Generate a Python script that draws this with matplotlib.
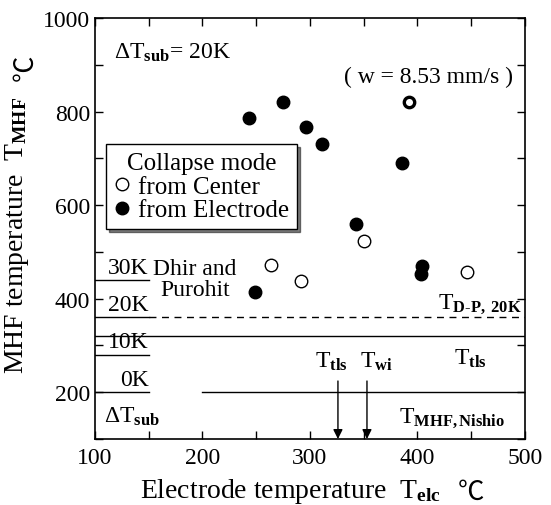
import numpy as np
import matplotlib
matplotlib.use('Agg')
import matplotlib.pyplot as plt
from matplotlib.ticker import MultipleLocator

plt.rcParams['font.family'] = ['Liberation Serif', 'DejaVu Serif']
plt.rcParams['mathtext.fontset'] = 'custom'
plt.rcParams['mathtext.rm'] = 'Liberation Serif'
plt.rcParams['mathtext.it'] = 'Liberation Serif:italic'
plt.rcParams['mathtext.bf'] = 'Liberation Serif:bold'

# collapse from center (open) / from electrode (filled)
center_x = [264, 292, 350, 446]
center_y = [472, 438, 524, 458]
electrode_x = [243, 275, 296, 311, 386, 343, 404, 403, 249]
electrode_y = [786, 820, 768, 731, 690, 559, 470, 452, 415]
# w = 8.53 mm/s
w_x = [392]
w_y = [820]

# Dhir-Purohit levels for dT_sub = 0,10,20,30 K
dp_levels = [200, 280, 360, 440]
dp_labels = ['0K', '10K', '20K', '30K']
t_tls_line = 320
nishio_line = 200
arrow_x = [326, 353]
arrow_labels = [r'T$_{\mathbf{tls}}$', r'T$_{\mathbf{wi}}$']
arrow_label_x = [320, 362]

FS = 17
CJK = ['Noto Sans CJK JP', 'DejaVu Sans']

fig = plt.figure(figsize=(5.51, 5.06), dpi=100)
ax = fig.add_axes([0.1724, 0.1304, 0.7804, 0.8321])
ax.set_xlim(100, 500)
ax.set_ylim(100, 1000)

ax.xaxis.set_major_locator(MultipleLocator(100))
ax.xaxis.set_minor_locator(MultipleLocator(50))
ax.yaxis.set_major_locator(MultipleLocator(200))
ax.yaxis.set_minor_locator(MultipleLocator(100))
ax.tick_params(which='both', direction='in', top=True, right=True, labelsize=17,
               length=6, width=1.0)
ax.tick_params(axis='x', pad=6)
for s in ax.spines.values():
    s.set_linewidth(1.2)

# short level lines at the left
for lv, lb in zip(dp_levels, dp_labels):
    ax.plot([100, 150], [lv, lv], color='black', lw=1.0)
    ax.text(150, lv + 5, lb, ha='right', va='bottom', fontsize=FS)
ax.plot([150, 500], [360, 360], color='black', lw=1.0, ls=(0, (5, 4)))
ax.plot([100, 500], [t_tls_line, t_tls_line], color='black', lw=1.0)
ax.plot([200, 500], [nishio_line, nishio_line], color='black', lw=1.0)

ax.text(108, 150, r'$\Delta$T$_{\mathbf{sub}}$', fontsize=FS, va='center')
ax.text(193, 442, 'Dhir and\nPurohit', fontsize=FS, ha='center', va='center',
        linespacing=1.0)
ax.text(497, 366, r'T$_{\mathbf{D\text{-}P,\ 20K}}$', fontsize=FS, ha='right', va='bottom')
ax.text(449, 273, r'T$_{\mathbf{tls}}$', fontsize=FS, ha='center', va='center')
ax.text(432, 146, r'T$_{\mathbf{MHF,Nishio}}$', fontsize=FS, ha='center', va='center')

for xa, lx, la in zip(arrow_x, arrow_label_x, arrow_labels):
    ax.annotate('', xy=(xa, 100), xytext=(xa, 224),
                arrowprops=dict(arrowstyle='-|>', color='black', lw=1.0,
                                mutation_scale=14, shrinkA=0, shrinkB=0))
    ax.text(lx, 268, la, fontsize=FS, ha='center', va='center')

ax.text(118, 928, r'$\Delta$T$_{\mathbf{sub}}$= 20K', fontsize=FS, va='center')
ax.text(489, 874, '( w = 8.53 mm/s )', fontsize=FS, ha='right', va='center')

ax.plot(center_x, center_y, 'o', mfc='white', mec='black', mew=1.0, ms=9,
        ls='none', label='from Center')
ax.plot(electrode_x, electrode_y, 'o', mfc='black', mec='black', ms=9,
        ls='none', label='from Electrode')
ax.plot(w_x, w_y, 'o', mfc='white', mec='black', mew=2.4, ms=7.5, ls='none')

leg = ax.legend(loc='upper left', bbox_to_anchor=(0.025, 0.70), fontsize=18,
                title='Collapse mode', title_fontsize=18, frameon=True,
                fancybox=False, shadow={'color': 'black'}, handletextpad=0.3,
                handlelength=0.7, borderpad=0.3, labelspacing=0.05,
                borderaxespad=0)
leg.get_frame().set_edgecolor('black')
leg.get_frame().set_linewidth(1.0)
leg.get_frame().set_alpha(1)

ax.set_xlabel('Electrode temperature  T$_{\\mathbf{elc}}$', fontsize=20)
ax.set_ylabel('MHF temperature  T$_{\\mathbf{MHF}}$', fontsize=20)
ax.xaxis.set_label_coords(0.454, -0.088)
ax.yaxis.set_label_coords(-0.148, 0.485)
fig.text(0.855, 0.027, '℃', fontsize=19, family=CJK, ha='center', va='center')
fig.text(0.045, 0.866, '℃', fontsize=19, family=CJK, ha='center', va='center',
         rotation=90)

fig.savefig('out.png', dpi=100)
